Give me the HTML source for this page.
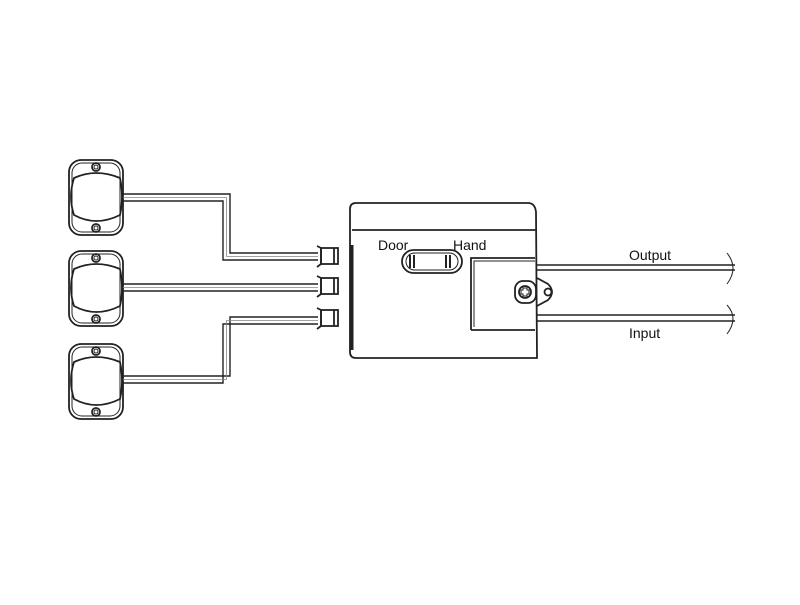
<!DOCTYPE html><html><head><style>body{margin:0;background:#fff}</style></head><body>
<svg width="800" height="600" xmlns="http://www.w3.org/2000/svg" font-family="Liberation Sans, sans-serif">
<rect width="800" height="600" fill="#fff"/>
<g fill="none" stroke="#222" stroke-width="1.8">
<g id="s"><rect x="69" y="160" width="54" height="75" rx="12"/><rect x="72" y="163" width="48" height="69" rx="10" stroke-width="1"/>
<path d="M74 178 Q96 168 120 178 Q124 197 120 215 Q96 227 74 215 Q68 197 74 178 Z"/>
<circle cx="96" cy="167" r="4"/><circle cx="96" cy="167" r="2" stroke-width="1"/>
<circle cx="96" cy="228" r="4"/><circle cx="96" cy="228" r="2" stroke-width="1"/></g>
<use href="#s" y="91"/><use href="#s" y="184"/>
<g stroke-width="1.4">
<path d="M123 194 H230 V253 H318"/><path d="M123 201 H223 V260 H318"/><path d="M123 197.5 H226.5 V256.5 H318" stroke="#888" stroke-width="0.8"/>
<path d="M123 284 H318"/><path d="M123 291 H318"/><path d="M123 287.5 H318" stroke="#888" stroke-width="0.8"/>
<path d="M123 376 H230 V317 H318"/><path d="M123 383 H223 V324 H318"/><path d="M123 379.5 H226.5 V320.5 H318" stroke="#888" stroke-width="0.8"/>
</g>
<g id="c"><path d="M317 246 L321 248 V264 L317 267"/><rect x="321" y="248" width="17" height="16"/><line x1="334" y1="248" x2="334" y2="264"/></g>
<use href="#c" y="30"/><use href="#c" y="62"/>
<path d="M356 203 H528 Q535 203 536 212 L537 358 H356 Q350 358 350 352 V209 Q350 203 356 203 Z"/>
<line x1="352" y1="230" x2="536" y2="230"/>
<line x1="352" y1="245" x2="352" y2="350" stroke-width="3"/>
<path d="M471 330 V258 H535 M471 330 H535" />
<path d="M474 327 V261 H535" stroke-width="1"/>
<rect x="402" y="250" width="60" height="23" rx="11.5"/>
<rect x="406" y="253" width="52" height="17" rx="8.5" stroke-width="1"/>
<path d="M410 255 V268 M414 255 V268 M446 255 V268 M450 255 V268" stroke-width="2"/>
<path d="M537 278 L548 284 Q556 292 548 300 L537 306"/>
<circle cx="548" cy="292" r="3.5"/>
<rect x="515" y="281" width="21" height="22" rx="8"/>
<circle cx="525" cy="292" r="6"/>
<path d="M523 288 H527 V290 H529 V294 H527 V296 H523 V294 H521 V290 H523 Z" stroke-width="1"/>
<path d="M537 265 H735 M537 270 H735 M537 315 H735 M537 321 H735" stroke-width="1.4"/>
<path d="M727 253 Q739 268 727 284 M727 305 Q739 318 727 334" stroke-width="1"/>
</g>
<g font-size="14" fill="#111">
<text x="378" y="250">Door</text><text x="453" y="250">Hand</text>
<text x="629" y="260">Output</text><text x="629" y="338">Input</text>
</g>
</svg></body></html>
